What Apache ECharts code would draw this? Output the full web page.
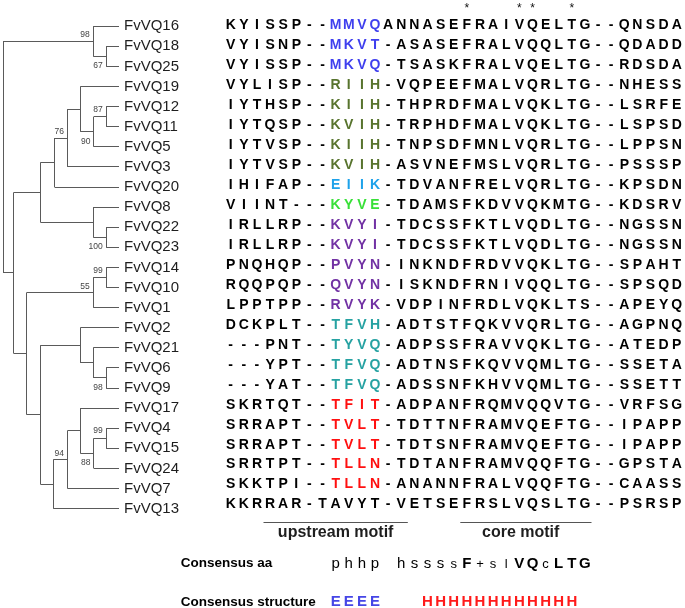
<!DOCTYPE html>
<html>
<head>
<meta charset="utf-8">
<script src="https://cdn.jsdelivr.net/npm/echarts@6.0.0/dist/echarts.min.js"></script>
<style>
html,body{margin:0;padding:0;background:#ffffff;}
#chart{width:685px;height:608px;}
</style>
</head>
<body>
<div id="chart"></div>
<script>
// ---------------- data ----------------
const leaves = ["FvVQ16","FvVQ18","FvVQ25","FvVQ19","FvVQ12","FvVQ11","FvVQ5","FvVQ3","FvVQ20","FvVQ8","FvVQ22","FvVQ23","FvVQ14","FvVQ10","FvVQ1","FvVQ2","FvVQ21","FvVQ6","FvVQ9","FvVQ17","FvVQ4","FvVQ15","FvVQ24","FvVQ7","FvVQ13"];

const sequences = [
 "KYISSP--MMVQANNASEFRAIVQELTG--QNSDA",
 "VYISNP--MKVT-ASASEFRALVQQLTG--QDADD",
 "VYISSP--MKVQ-TSASKFRALVQELTG--RDSDA",
 "VYLISP--RIIH-VQPEEFMALVQRLTG--NHESS",
 "IYTHSP--KIIH-THPRDFMALVQKLTG--LSRFE",
 "IYTQSP--KVIH-TRPHDFMALVQKLTG--LSPSD",
 "IYTVSP--KIIH-TNPSDFMNLVQRLTG--LPPSN",
 "IYTVSP--KVIH-ASVNEFMSLVQRLTG--PSSSP",
 "IHIFAP--EIIK-TDVANFRELVQRLTG--KPSDN",
 "VIINT---KYVE-TDAMSFKDVVQKMTG--KDSRV",
 "IRLLRP--KVYI-TDCSSFKTLVQDLTG--NGSSN",
 "IRLLRP--KVYI-TDCSSFKTLVQDLTG--NGSSN",
 "PNQHQP--PVYN-INKNDFRDVVQKLTG--SPAHT",
 "RQQPQP--QVYN-ISKNDFRNIVQQLTG--SPSQD",
 "LPPTPP--RVYK-VDPINFRDLVQKLTS--APEYQ",
 "DCKPLT--TFVH-ADTSTFQKVVQRLTG--AGPNQ",
 "---PNT--TYVQ-ADPSSFRAVVQKLTG--ATEDP",
 "---YPT--TFVQ-ADTNSFKQVVQMLTG--SSETA",
 "---YAT--TFVQ-ADSSNFKHVVQMLTG--SSETT",
 "SKRTQT--TFIT-ADPANFRQMVQQVTG--VRFSG",
 "SRRAPT--TVLT-TDTTNFRAMVQEFTG--IPAPP",
 "SRRAPT--TVLT-TDTSNFRAMVQEFTG--IPAPP",
 "SRRTPT--TLLN-TDTANFRAMVQQFTG--GPSTA",
 "SKKTPI--TLLN-ANANNFRALVQQFTG--CAASS",
 "KKRRAR-TAVYT-VETSEFRSLVQSLTG--PSRSP"
];

// colour group of the upstream-motif residues (columns 8-11) for each row
const motifGroup = ["blue","blue","blue","olive","olive","olive","olive","olive","sky","green","purple","purple","purple","purple","purple","teal","teal","teal","teal","red","red","red","red","red","none"];
const motifColumns = [8, 9, 10, 11];

// conserved columns marked with an asterisk
const conservedColumns = [18, 22, 23, 26];

// motif brackets under the alignment
const motifNames = ["upstream motif", "core motif"];
const motifStart = [3, 18];
const motifEnd = [13, 27];
const motifLabelColumn = [8, 22.1];

// consensus rows (one entry per alignment column)
const consensusAA = ["","","","","","","","","p","h","h","p","","h","s","s","s","s","F","+","s","l","V","Q","c","L","T","G","","","","","","",""];
const consensusSS = ["","","","","","","","","E","E","E","E","","","","H","H","H","H","H","H","H","H","H","H","H","H","","","","","","","",""];

// tree (cladogram): internal nodes, their depth, children and bootstrap support
const nodeIds      = ["root","A","B","C","D","F","I","J","K","L","G","H","E","M","P","N","Q","S","T","R","U","V","W","X"];
const nodeDepth    = [0, 7, 8, 0.85, 2.9, 4, 5, 6, 7.05, 8, 7, 8, 1.84, 7, 8, 2.9, 6, 7, 8, 3.9, 5, 6, 7.05, 8];
const nodeChildren = [["A","C"],["FvVQ16","B"],["FvVQ18","FvVQ25"],["D","E"],["F","G"],["I","FvVQ20"],["J","FvVQ3"],["FvVQ19","K"],["L","FvVQ5"],["FvVQ12","FvVQ11"],["FvVQ8","H"],["FvVQ22","FvVQ23"],["M","N"],["P","FvVQ1"],["FvVQ14","FvVQ10"],["Q","R"],["FvVQ2","S"],["FvVQ21","T"],["FvVQ6","FvVQ9"],["U","FvVQ13"],["V","FvVQ7"],["FvVQ17","W"],["X","FvVQ24"],["FvVQ4","FvVQ15"]];
const nodeSupport  = [null, 98, 67, null, null, null, 76, null, 90, 87, null, 100, null, 55, 99, null, null, null, 98, null, 94, null, 88, 99];
const LEAF_DEPTH = 9;

// ---------------- style ----------------
const motifColors = {blue:"#3f3fee", olive:"#58742e", sky:"#1ea2ea", green:"#38e038", purple:"#7232a4", teal:"#26a2a2", red:"#ff1010", none:"#000000"};
const supportAnchor = {A:"above",B:"bottom",I:"above",K:"bottomUp",L:"top",H:"bottom",M:"above",P:"top",T:"bottom",U:"above",W:"bottomUp",X:"top"};
const FONT = '"Liberation Sans", Arial, Helvetica, sans-serif';
const TREE_COLOR = "#5a5a5a";

// ---------------- layout helpers ----------------
const W = 685, H = 608;
const treeRow0 = 26.2, treeRowH = 20.1;
const alnRow0 = 25.3, alnRowH = 19.97;
const col0 = 230.7, colW = 13.12;
const treeLeftPx = 3, treeTipPx = 119;

const leafIndex = {}; leaves.forEach((n, i) => leafIndex[n] = i);
const nodeIndex = {}; nodeIds.forEach((n, i) => nodeIndex[n] = i);
function yOf(name) {
  if (name in leafIndex) return leafIndex[name];
  const ch = nodeChildren[nodeIndex[name]];
  return (yOf(ch[0]) + yOf(ch[ch.length - 1])) / 2;
}
function dOf(name) { return (name in leafIndex) ? LEAF_DEPTH : nodeDepth[nodeIndex[name]]; }

const treeSegments = [];
nodeIds.forEach((id, k) => {
  const d = nodeDepth[k], ch = nodeChildren[k];
  treeSegments.push([d, yOf(ch[0]), d, yOf(ch[ch.length - 1])]);
  ch.forEach(c => treeSegments.push([d, yOf(c), dOf(c), yOf(c)]));
});

const supportItems = [];
nodeIds.forEach((id, k) => {
  if (nodeSupport[k] == null) return;
  const ch = nodeChildren[k];
  supportItems.push({ id: id, value: [nodeDepth[k], yOf(id), yOf(ch[0]), yOf(ch[ch.length - 1])], text: String(nodeSupport[k]) });
});

// alignment cells
const cells = [];
sequences.forEach((s, r) => {
  for (let c = 0; c < s.length; c++) {
    const inMotif = motifColumns.indexOf(c) >= 0;
    cells.push({ c: c, r: r, ch: s[c], color: inMotif ? motifColors[motifGroup[r]] : "#000000" });
  }
});

// consensus cells
const consCells = [];
consensusAA.forEach((ch, c) => { if (ch) consCells.push({ c: c, r: 26.95, ch: ch, kind: "aa" }); });
consensusSS.forEach((ch, c) => { if (ch) consCells.push({ c: c, r: 28.89, ch: ch, kind: "ss" }); });

const alnYMin = -alnRow0 / alnRowH;
const alnYMax = alnYMin + H / alnRowH;

function crisp(v) { return Math.round(v - 0.5) + 0.5; }

const chart = echarts.init(document.getElementById('chart'), null, { renderer: 'canvas' });

const option = {
  animation: false,
  backgroundColor: '#ffffff',
  grid: [
    { left: treeLeftPx, right: W - treeTipPx, top: treeRow0 - treeRowH / 2, height: treeRowH * leaves.length, containLabel: false },
    { left: col0 - colW / 2, right: W - (col0 + colW * 34.5), top: 0, bottom: 0, containLabel: false }
  ],
  xAxis: [
    { gridIndex: 0, type: 'value', min: 0, max: LEAF_DEPTH, show: false },
    { gridIndex: 1, type: 'value', min: -0.5, max: 34.5, show: false }
  ],
  yAxis: [
    { gridIndex: 0, type: 'category', data: leaves, inverse: true, position: 'right',
      axisLine: { show: false }, axisTick: { show: false }, splitLine: { show: false },
      axisLabel: { margin: 5, fontSize: 15, color: '#1e1e1e', fontFamily: FONT, align: 'left' } },
    { gridIndex: 0, type: 'value', min: -0.5, max: leaves.length - 0.5, inverse: true, show: false },
    { gridIndex: 1, type: 'value', min: alnYMin, max: alnYMax, inverse: true, show: false }
  ],
  series: [
    // tree branches
    {
      type: 'custom', xAxisIndex: 0, yAxisIndex: 1, silent: true,
      encode: { x: [0, 2], y: [1, 3] },
      data: treeSegments,
      renderItem: function (params, api) {
        const a = api.coord([api.value(0), api.value(1)]);
        const b = api.coord([api.value(2), api.value(3)]);
        let x1 = a[0], y1 = a[1], x2 = b[0], y2 = b[1];
        if (Math.abs(x1 - x2) < 0.01) { x1 = x2 = crisp(x1); } else { y1 = y2 = crisp(y1); }
        return { type: 'line', shape: { x1: x1, y1: y1, x2: x2, y2: y2 }, style: { stroke: TREE_COLOR, lineWidth: 1 } };
      }
    },
    // bootstrap support values
    {
      type: 'custom', xAxisIndex: 0, yAxisIndex: 1, silent: true,
      encode: { x: 0, y: 1 },
      data: supportItems.map(o => o.value),
      renderItem: function (params, api) {
        const o = supportItems[params.dataIndex];
        const node = api.coord([api.value(0), api.value(1)]);
        const top = api.coord([api.value(0), api.value(2)]);
        const bot = api.coord([api.value(0), api.value(3)]);
        const mode = supportAnchor[o.id];
        let y;
        if (mode === 'above') y = node[1] - 6.3;
        else if (mode === 'top') y = top[1] + 2.8;
        else if (mode === 'bottom') y = bot[1] - 0.5;
        else y = bot[1] - 5.3;
        return { type: 'text', x: node[0] - 3.5, y: y,
          style: { text: o.text, fill: '#444444', font: '8.5px ' + FONT, align: 'right', verticalAlign: 'middle', textAlign: 'right', textVerticalAlign: 'middle' } };
      }
    },
    // alignment residues
    {
      type: 'custom', xAxisIndex: 1, yAxisIndex: 2, silent: true,
      encode: { x: 0, y: 1 },
      data: cells.map(o => [o.c, o.r]),
      renderItem: function (params, api) {
        const o = cells[params.dataIndex];
        const p = api.coord([api.value(0), api.value(1)]);
        return { type: 'text', x: p[0], y: p[1],
          style: { text: o.ch, fill: o.color, font: 'bold 14px ' + FONT, align: 'center', verticalAlign: 'middle', textAlign: 'center', textVerticalAlign: 'middle' } };
      }
    },
    // conservation asterisks
    {
      type: 'custom', xAxisIndex: 1, yAxisIndex: 2, silent: true,
      encode: { x: 0, y: 1 },
      data: conservedColumns.map(c => [c, -1]),
      renderItem: function (params, api) {
        const p = api.coord([api.value(0), api.value(1)]);
        return { type: 'text', x: p[0], y: p[1] + 3,
          style: { text: '*', fill: '#111111', font: '12px ' + FONT, align: 'center', verticalAlign: 'middle', textAlign: 'center', textVerticalAlign: 'middle' } };
      }
    },
    // motif brackets + labels
    {
      type: 'custom', xAxisIndex: 1, yAxisIndex: 2, silent: true,
      encode: { x: [0, 1], y: 2 },
      data: motifNames.map((n, i) => [motifStart[i] - 0.5, motifEnd[i] + 0.5, 24.9, motifLabelColumn[i], 25.4]),
      renderItem: function (params, api) {
        const a = api.coord([api.value(0), api.value(2)]);
        const b = api.coord([api.value(1), api.value(2)]);
        const t = api.coord([api.value(3), api.value(4)]);
        const y = crisp(a[1]);
        return { type: 'group', children: [
          { type: 'line', shape: { x1: a[0], y1: y, x2: b[0], y2: y }, style: { stroke: '#555555', lineWidth: 1 } },
          { type: 'text', x: t[0], y: t[1], style: { text: motifNames[params.dataIndex], fill: '#1e1e1e', font: 'bold 16px ' + FONT, align: 'center', verticalAlign: 'middle', textAlign: 'center', textVerticalAlign: 'middle' } }
        ] };
      }
    },
    // consensus row titles
    {
      type: 'custom', xAxisIndex: 1, yAxisIndex: 2, silent: true,
      encode: { x: 0, y: 1 },
      data: [[-3.81, 26.95], [-3.81, 28.89]],
      renderItem: function (params, api) {
        const p = api.coord([api.value(0), api.value(1)]);
        return { type: 'text', x: p[0], y: p[1],
          style: { text: ["Consensus aa", "Consensus structure"][params.dataIndex], fill: '#000000', font: 'bold 13.5px ' + FONT, align: 'left', verticalAlign: 'middle', textAlign: 'left', textVerticalAlign: 'middle' } };
      }
    },
    // consensus letters
    {
      type: 'custom', xAxisIndex: 1, yAxisIndex: 2, silent: true,
      encode: { x: 0, y: 1 },
      data: consCells.map(o => [o.c, o.r]),
      renderItem: function (params, api) {
        const o = consCells[params.dataIndex];
        const p = api.coord([api.value(0), api.value(1)]);
        let font, fill = '#000000', dy = 0;
        if (o.kind === 'ss') {
          font = 'bold 15px ' + FONT;
          fill = o.ch === 'E' ? '#4646e6' : '#ff1a1a';
        } else if (/[A-Z]/.test(o.ch)) {
          font = 'bold 15px ' + FONT;
        } else if (o.c >= 17) {
          font = '13px ' + FONT; dy = 1;
        } else {
          font = '15px ' + FONT;
        }
        return { type: 'text', x: p[0], y: p[1] + dy,
          style: { text: o.ch, fill: fill, font: font, align: 'center', verticalAlign: 'middle', textAlign: 'center', textVerticalAlign: 'middle' } };
      }
    }
  ]
};
chart.setOption(option);
</script>
</body>
</html>
